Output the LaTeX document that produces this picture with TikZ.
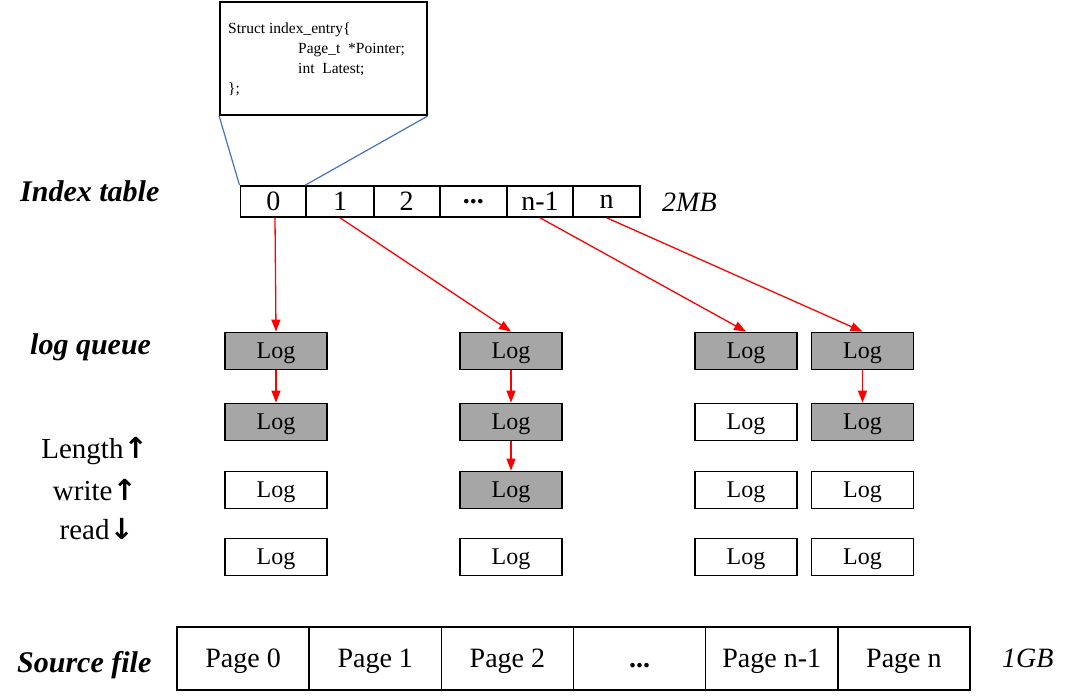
\documentclass[tikz,border=0pt]{standalone}
\usepackage{fontspec}
\setmainfont{Liberation Serif}
\newfontfamily\arrowfont{DejaVu Sans}
\usetikzlibrary{arrows.meta}
\begin{document}
\begin{tikzpicture}[x=1pt,y=-1pt,
  cell/.style={draw=black,line width=1.6pt,minimum height=31pt,inner sep=0pt,font=\fontsize{28}{28}\selectfont},
  pagecell/.style={draw=black,line width=1.6pt,minimum width=132.2pt,minimum height=63pt,inner sep=0pt,text height=20pt,text depth=3pt,font=\fontsize{28}{28}\selectfont},
  logbox/.style={draw=black,line width=1.8pt,minimum width=102pt,minimum height=37pt,inner sep=0pt,text height=17pt,text depth=3pt,font=\fontsize{24}{24}\selectfont},
  logfull/.style={logbox,fill=black!35},
  side/.style={font=\fontsize{30}{30}\selectfont\bfseries\itshape,anchor=west,inner sep=0pt},
  size/.style={font=\fontsize{28}{28}\selectfont\itshape,anchor=west,inner sep=0pt},
  lenlabel/.style={anchor=east,inner sep=0pt,font=\fontsize{29}{29}\selectfont},
  link/.style={red,line width=1.3pt,-{Triangle[length=12pt,width=9pt]}},
  zoomline/.style={draw={rgb,255:red,68;green,114;blue,196},line width=1.2pt}
]
\useasboundingbox (0,0) rectangle (1071,699);

% structure of one index entry
\node[draw=black,line width=1.8pt,minimum width=207pt,minimum height=113pt,inner sep=0pt] (sb) at (323.5,58.5) {};
\node[anchor=north west,align=left,inner sep=0pt,font=\fontsize{15.5}{20}\selectfont] (st) at (228,23)
  {Struct index\_entry\{\\
   \hspace*{70pt}Page\_t\ \ *Pointer;\\
   \hspace*{70pt}int\ \ Latest;\\
   \};};

% index table
\foreach \i/\t/\w in {0/0/66,1/1/68,2/2/66,3/\textbf{...}/67,4/n-1/66,5/n/67}{
  \node[cell,minimum width=\w pt] (c\i) at ({240+66.67*\i+33.33},201.5) {\t};
}
\node[size] (mb) at (662,202) {2MB};

\draw[zoomline] (sb.south west) -- (c0.north west);
\draw[zoomline] (sb.south east) -- (c1.north west);

% row labels
\node[side] (lit) at (20,191) {Index table};
\node[side] (llq) at (30,347) {log queue};
\node[side] (lsf) at (17,665) {Source file};
\node[lenlabel] (len) at (148,451) {Length{\arrowfont\bfseries ↑}};
\node[lenlabel] (wr) at (137,490) {write{\arrowfont\bfseries ↑}};
\node[lenlabel] (rd) at (134,529) {read{\arrowfont\bfseries ↓}};

% log queues
\foreach \c/\x in {1/276,2/511,3/746,4/862.5}{
  \foreach \r/\y in {1/351,2/422,3/490,4/557}{
    \node[logbox] (l\c\r) at (\x,\y) {Log};
  }
}
\foreach \n in {11,12,21,22,23,31,41,42}{
  \node[logfull] at (l\n) {Log};
}

% pointers from the index table
\draw[link] (c0.south -| 275,0) -- (l11.north);
\draw[link] (c1.south) -- (l21.north);
\draw[link] (c4.south) -- (l31.north);
\draw[link] (c5.south) -- (l41.north);
\draw[link] (l11) -- (l12);
\draw[link] (l21) -- (l22);
\draw[link] (l22) -- (l23);
\draw[link] (l41) -- (l42);

% source file pages
\foreach \i/\t in {0/Page 0,1/Page 1,2/Page 2,3/\textbf{...},4/Page n-1,5/Page n}{
  \node[pagecell] (p\i) at ({177+132.17*\i+66.08},658.5) {\t};
}
\node[size] (gb) at (1002,658) {1GB};
\end{tikzpicture}
\end{document}
